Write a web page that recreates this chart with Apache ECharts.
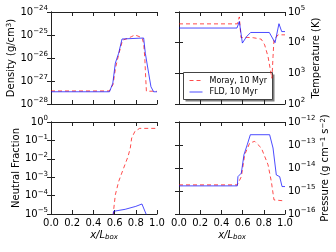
<!DOCTYPE html>
<html><head><meta charset="utf-8">
<script src="https://cdn.jsdelivr.net/npm/echarts@6/dist/echarts.min.js"></script>
<style>html,body{margin:0;padding:0;background:#fff}#c{width:336px;height:252px}</style>
</head><body><div id="c"></div>
<script>
// ---- data ----
const seriesNames = ['Moray, 10 Myr', 'FLD, 10 Myr'];

const densX_Moray = [0, 0.55, 0.585, 0.61, 0.64, 0.675, 0.72, 0.76, 0.79, 0.82, 0.86, 0.875, 0.885, 0.893, 0.90, 1.0];
const densY_Moray = [3.7e-28, 3.7e-28, 7e-28, 4e-27, 1.5e-26, 6e-26, 7e-26, 8.5e-26, 1e-25, 9e-26, 7.5e-26, 4e-26, 1e-26, 1.5e-27, 3.6e-28, 3.6e-28];
const densX_FLD = [0, 0.552, 0.583, 0.607, 0.638, 0.670, 0.874, 0.89, 0.921, 0.943, 0.968, 1.0];
const densY_FLD = [3.4e-28, 3.4e-28, 8e-28, 6e-27, 1.6e-26, 6.7e-26, 7.4e-26, 1.6e-26, 2.2e-27, 5.6e-28, 3.4e-28, 3.4e-28];

const tempX_Moray = [0, 0.55, 0.569, 0.585, 0.62, 0.70, 0.776, 0.808, 0.84, 0.862, 0.877, 0.887, 0.896, 0.934, 1.0];
const tempY_Moray = [4.1e4, 4.1e4, 6.9e4, 1.45e4, 1.5e4, 1.45e4, 1.3e4, 8.5e3, 3.5e3, 1.3e3, 690, 3.5e3, 1.23e4, 1.8e4, 1.8e4];
const tempX_FLD = [0, 0.547, 0.569, 0.598, 0.639, 0.676, 0.852, 0.906, 0.943, 0.969, 1.0];
const tempY_FLD = [3.0e4, 3.0e4, 4.9e4, 9.7e3, 1.6e4, 2.15e4, 2.15e4, 1.0e4, 4.15e4, 2.3e4, 2.3e4];

const nfX_Moray = [0.575, 0.59, 0.607, 0.638, 0.685, 0.726, 0.748, 0.761, 0.792, 0.836, 1.0];
const nfY_Moray = [1e-7, 1.5e-5, 1.1e-4, 5.8e-4, 3.1e-3, 1.3e-2, 3.8e-2, 0.135, 0.31, 0.45, 0.45];
const nfX_FLD = [0.57, 0.59, 0.70, 0.80, 0.858, 0.90, 0.91];
const nfY_FLD = [1e-6, 1.4e-5, 1.8e-5, 2.6e-5, 3.5e-5, 9e-6, 5e-6];

const presX_Moray = [0, 0.55, 0.556, 0.588, 0.62, 0.667, 0.714, 0.777, 0.84, 0.871, 0.896, 1.0];
const presY_Moray = [1.85e-15, 1.85e-15, 2.2e-15, 4.2e-15, 3.8e-14, 1.22e-13, 1.44e-13, 7.4e-14, 1.38e-14, 2.6e-15, 4.1e-16, 3.7e-16];
const presX_FLD = [0, 0.55, 0.556, 0.588, 0.613, 0.644, 0.673, 0.855, 0.887, 0.918, 0.95, 0.972, 1.0];
const presY_FLD = [1.67e-15, 1.67e-15, 4.2e-15, 6e-15, 3.8e-14, 1.03e-13, 2.8e-13, 2.8e-13, 7.4e-14, 5e-15, 4.2e-15, 1.56e-15, 1.56e-15];

const yRanges = [[1e-28, 1e-24], [1e2, 1e5], [1e-5, 1e0], [1e-16, 1e-12]];
const xTickLabels = ['0.0', '0.2', '0.4', '0.6', '0.8', '1.0'];

// ---- chart ----
const zip = (xs, ys) => xs.map((x, i) => [x, ys[i]]);
const zipLog = (xs, ys) => xs.map((x, i) => [x, Math.log10(ys[i])]);
const FONT = 'DejaVu Sans';
const RED = 'rgba(255,0,0,0.7)';
const BLUE = 'rgba(0,0,255,0.7)';
const rich = {
  b: {fontSize: 10, fontFamily: FONT, color: '#000', lineHeight: 14},
  s: {fontSize: 7, fontFamily: FONT, color: '#000', verticalAlign: 'top', lineHeight: 14}
};
const expLabel = e => '{b|10}{s|' + String(e).replace('-', '\u2212') + '}';
const supFmt = v => expLabel(Math.round(Math.log10(v)));

const grids = [
  {left: 51, top: 12, width: 106, height: 92},
  {left: 179, top: 12, width: 106, height: 92},
  {left: 51, top: 122, width: 106, height: 92},
  {left: 179, top: 122, width: 106, height: 92}
];
const lineC = {lineStyle: {color: '#222', width: 1}};
const tickC = {show: true, inside: true, length: 4, lineStyle: {color: '#222', width: 1}};

const xAxes = [], yAxes = [];
const yNames = ['Density (g/cm{s|3})', 'Temperature (K)', 'Neutral Fraction', 'Pressure (g cm{s|\u22121} s{s|\u22122})'];
const yNameGaps = [30, 26, 26, 34];
grids.forEach((g, i) => {
  const bottomRow = i >= 2;
  xAxes.push({
    type: 'value', gridIndex: i, min: 0, max: 1, interval: 0.2, position: 'bottom',
    axisLine: lineC, axisTick: tickC, splitLine: {show: false},
    axisLabel: {show: bottomRow, fontSize: 10, fontFamily: FONT, color: '#000', margin: 4,
      formatter: v => xTickLabels[Math.round(v / 0.2)]},
    name: bottomRow ? '{i|x/L}{sub|box}' : '', nameLocation: 'middle', nameGap: 15,
    nameTextStyle: {rich: {i: {fontSize: 10, fontStyle: 'italic', fontFamily: FONT, color: '#000'},
      sub: {fontSize: 7, fontStyle: 'italic', fontFamily: FONT, color: '#000', verticalAlign: 'bottom', lineHeight: 12}}}
  });
  xAxes.push({
    type: 'value', gridIndex: i, min: 0, max: 1, interval: 0.2, position: 'top',
    axisLine: lineC, axisTick: tickC, splitLine: {show: false}, axisLabel: {show: false}
  });
  const right = (i % 2 === 1);
  const [mn, mx] = yRanges[i];
  // density values are too small for the log scale's rounding, so that axis runs on log10 values
  const scaleOpts = i === 0
    ? {type: 'value', min: Math.log10(mn), max: Math.log10(mx), interval: 1}
    : {type: 'log', logBase: 10, min: mn, max: mx};
  const fmt = i === 0 ? (v => expLabel(Math.round(v))) : supFmt;
  yAxes.push(Object.assign({}, scaleOpts, {
    gridIndex: i, position: right ? 'right' : 'left',
    axisLine: lineC, axisTick: tickC, splitLine: {show: false},
    axisLabel: {formatter: fmt, rich: rich, margin: 3},
    name: yNames[i], nameLocation: 'middle', nameGap: yNameGaps[i], nameRotate: 90,
    nameTextStyle: {fontSize: 10, fontFamily: FONT, color: '#000',
      rich: {s: {fontSize: 7, fontFamily: FONT, color: '#000', verticalAlign: 'top', lineHeight: 12}}}
  }));
  yAxes.push(Object.assign({}, scaleOpts, {
    gridIndex: i, position: right ? 'left' : 'right',
    axisLine: lineC, axisTick: tickC, splitLine: {show: false}, axisLabel: {show: false}
  }));
});

const mk = (name, data, i, moray) => ({
  name: name, type: 'line', xAxisIndex: 2 * i, yAxisIndex: 2 * i, data: data,
  showSymbol: false, symbol: 'none', clip: true, animation: false,
  lineStyle: {color: moray ? RED : BLUE, width: 1, type: moray ? [4, 3] : 'solid'},
  itemStyle: {color: moray ? RED : BLUE}
});

const series = [
  mk(seriesNames[0], zipLog(densX_Moray, densY_Moray), 0, true),
  mk(seriesNames[1], zipLog(densX_FLD, densY_FLD), 0, false),
  mk(seriesNames[0], zip(tempX_Moray, tempY_Moray), 1, true),
  mk(seriesNames[1], zip(tempX_FLD, tempY_FLD), 1, false),
  mk(seriesNames[0], zip(nfX_Moray, nfY_Moray), 2, true),
  mk(seriesNames[1], zip(nfX_FLD, nfY_FLD), 2, false),
  mk(seriesNames[0], zip(presX_Moray, presY_Moray), 3, true),
  mk(seriesNames[1], zip(presX_FLD, presY_FLD), 3, false)
];

// legend drawn as graphic (dashed / solid line handles like the reference)
const LX = 183, LY = 72, LW = 89, LH = 27;
const legendGraphic = {
  type: 'group', left: LX, top: LY, z: 100,
  children: [
    {type: 'rect', shape: {x: 2, y: 2, width: LW, height: LH}, style: {fill: 'rgba(0,0,0,0.5)'}},
    {type: 'rect', shape: {x: 0, y: 0, width: LW, height: LH}, style: {fill: '#fff', stroke: '#444', lineWidth: 1}},
    {type: 'line', shape: {x1: 6, y1: 8, x2: 19, y2: 8}, style: {stroke: RED, lineWidth: 1, lineDash: [4, 3]}},
    {type: 'line', shape: {x1: 6, y1: 19.5, x2: 19, y2: 19.5}, style: {stroke: BLUE, lineWidth: 1}},
    {type: 'text', x: 26, y: 8, style: {text: seriesNames[0], fontSize: 8, fontFamily: FONT, fill: '#000', verticalAlign: 'middle'}},
    {type: 'text', x: 26, y: 19.5, style: {text: seriesNames[1], fontSize: 8, fontFamily: FONT, fill: '#000', verticalAlign: 'middle'}}
  ]
};

const chart = echarts.init(document.getElementById('c'), null, {renderer: 'canvas'});
chart.setOption({
  animation: false,
  backgroundColor: '#fff',
  grid: grids,
  xAxis: xAxes,
  yAxis: yAxes,
  graphic: [legendGraphic],
  series: series
});
</script></body></html>
